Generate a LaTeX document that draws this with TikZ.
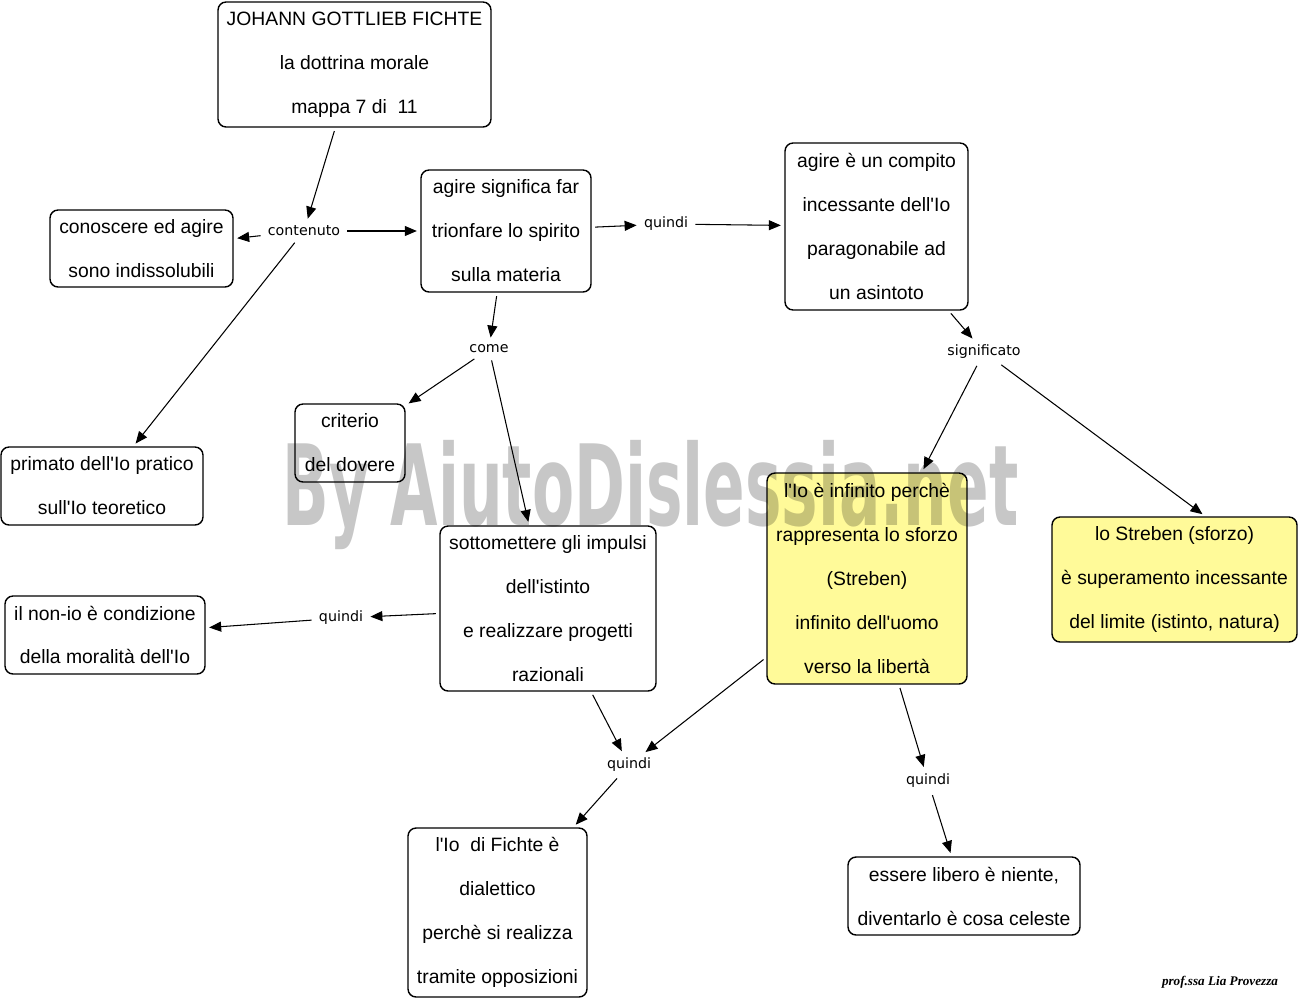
\documentclass[tikz,border=0pt]{standalone}
\usepackage{fontspec}
\usepackage{tikz}
\usetikzlibrary{arrows.meta}
\setmainfont{Liberation Sans}
\newfontfamily\lblfont{DejaVu Sans}
\newfontfamily\wmfont{DejaVu Sans}
\newfontfamily\sigfont{Liberation Serif}
\newcommand{\apo}{\textquotesingle}

\begin{document}
\begin{tikzpicture}[x=0.02cm,y=-0.02cm,
  box/.style={draw,rounded corners=0.16cm,line width=0.8pt,align=center,inner sep=0pt,font=\fontsize{11}{25}\selectfont},
  yelbox/.style={box,fill=yellow!40},
  lbl/.style={font=\lblfont\fontsize{8.1}{9}\selectfont,inner sep=2pt},
  conn/.style={-{Triangle[length=0.24cm,width=0.2cm]},line width=0.6pt,shorten >=2pt,shorten <=2pt}]
\useasboundingbox (0,0) rectangle (1300,1001);
\node[box,minimum width=5.46cm,minimum height=2.5cm] (title) at (354.5,64.5) {JOHANN GOTTLIEB FICHTE\\la dottrina morale\\mappa 7 di\ \ 11};
\node[box,minimum width=3.66cm,minimum height=1.54cm] (conoscere) at (141.5,248.5) {conoscere ed agire\\sono indissolubili};
\node[box,minimum width=3.4cm,minimum height=2.44cm] (agire) at (506,231) {agire significa far\\trionfare lo spirito\\sulla materia};
\node[box,minimum width=3.66cm,minimum height=3.34cm] (compito) at (876.5,226.5) {agire è un compito\\incessante dell\apo Io\\paragonabile ad\\un asintoto};
\node[box,minimum width=4.04cm,minimum height=1.56cm] (primato) at (102,486) {primato dell\apo Io pratico\\sull\apo Io teoretico};
\node[box,minimum width=2.2cm,minimum height=1.56cm] (criterio) at (350,443) {criterio\\del dovere};
\node[box,minimum width=4.32cm,minimum height=3.3cm] (impulsi) at (548,608.5) {sottomettere gli impulsi\\dell\apo istinto\\e realizzare progetti\\razionali};
\node[box,minimum width=4.0cm,minimum height=1.56cm] (nonio) at (105,635) {il non-io è condizione\\della moralità dell\apo Io};
\node[yelbox,minimum width=4.0cm,minimum height=4.22cm] (infinito) at (867,578.5) {l\apo Io è infinito perchè\\rappresenta lo sforzo\\(Streben)\\infinito dell\apo uomo\\verso la libertà};
\node[yelbox,minimum width=4.9cm,minimum height=2.5cm] (streben) at (1174.5,579.5) {lo Streben (sforzo)\\è superamento incessante\\del limite (istinto, natura)};
\node[box,minimum width=3.58cm,minimum height=3.38cm] (dialettico) at (497.5,912.5) {l\apo Io\ \ di Fichte è\\dialettico\\perchè si realizza\\tramite opposizioni};
\node[box,minimum width=4.64cm,minimum height=1.56cm] (libero) at (964,896) {essere libero è niente,\\diventarlo è cosa celeste};
\node[lbl] (contenuto) at (304,231) {contenuto};
\node[lbl] (quindiA) at (666,224) {quindi};
\node[lbl] (come) at (489,349) {come};
\node[lbl] (significato) at (984,352) {significato};
\node[lbl] (quindiB) at (341,618) {quindi};
\node[lbl] (quindiC) at (629,765) {quindi};
\node[lbl] (quindiD) at (928,781) {quindi};
\draw[conn] (title)--(contenuto);
\draw[conn] (contenuto)--(conoscere);
\draw[conn] (contenuto)--(agire);
\draw[conn] (contenuto)--(primato);
\draw[conn] (agire)--(quindiA);
\draw[conn] (quindiA)--(compito);
\draw[conn] (agire)--(come);
\draw[conn] (come)--(criterio);
\draw[conn] (come)--(impulsi);
\draw[conn] (compito)--(significato);
\draw[conn] (significato)--(infinito);
\draw[conn] (significato)--(streben.64);
\draw[conn] (impulsi)--(quindiB);
\draw[conn] (quindiB)--(nonio);
\draw[conn] (impulsi)--(quindiC);
\draw[conn] (infinito)--(quindiC);
\draw[conn] (quindiC)--(dialettico);
\draw[conn] (infinito)--(quindiD);
\draw[conn] (quindiD)--(libero);
\node[anchor=base,inner sep=0pt,text=black,text opacity=0.22,font=\wmfont\bfseries\fontsize{63.8}{64}\selectfont] (marchio) at (650.5,525) {\scalebox{0.547}[1]{By AiutoDislessia.net}};
\node[anchor=base,inner sep=0pt,font=\sigfont\bfseries\itshape\fontsize{7.5}{9}\selectfont] (firma) at (1220,985) {prof.ssa Lia Provezza};
\end{tikzpicture}
\end{document}
